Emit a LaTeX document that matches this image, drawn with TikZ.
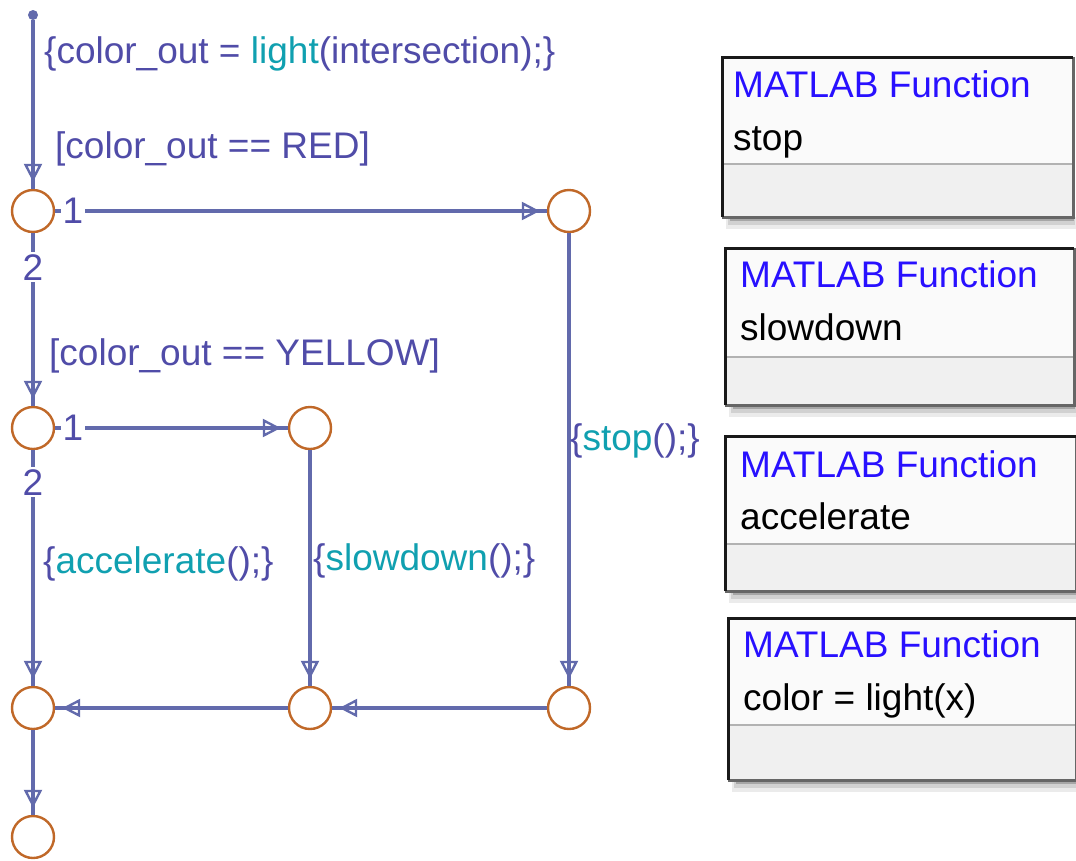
\documentclass[tikz,border=0pt]{standalone}
\usepackage{fontspec}
\setmainfont{Liberation Sans}
\usetikzlibrary{arrows.meta}
\definecolor{lineblue}{RGB}{98,106,172}
\definecolor{lblblue}{RGB}{80,76,168}
\definecolor{actteal}{RGB}{16,160,176}
\definecolor{junc}{RGB}{192,104,40}
\definecolor{fnblue}{RGB}{40,16,255}
\newcommand{\act}[1]{\textcolor{actteal}{#1}}
\begin{document}
\begin{tikzpicture}[x=1pt,y=-1pt,
  junction/.style={circle,draw=junc,line width=2.4pt,fill=white,minimum size=42pt,inner sep=0pt},
  trans/.style={draw=lineblue,line width=3.4pt,-{Triangle[open,length=18pt,width=18pt,line width=2.4pt]Rectangle[length=7pt,width=4pt]}},
  lbl/.style={font=\fontsize{37}{40}\selectfont,text=lblblue,anchor=base west,inner sep=0pt},
  num/.style={font=\fontsize{37}{40}\selectfont,text=lblblue,fill=white,inner sep=2pt,anchor=base},
  fntitle/.style={font=\fontsize{37}{40}\selectfont,text=fnblue,anchor=base west,inner sep=0pt},
  fnname/.style={font=\fontsize{37}{40}\selectfont,text=black,anchor=base west,inner sep=0pt},
  dotstyle/.style={circle,fill=lineblue,minimum size=10pt,inner sep=0pt}
]
\useasboundingbox (0,0) rectangle (1076,860);
\fill[white] (0,0) rectangle (1076,860);

% ---------- function boxes ----------
\newcommand{\fnbox}[5]{%
  \fill[black!8] (#1+4,#4) rectangle (#3+3,#4+12);
  \fill[black!18] (#1+6,#4) rectangle (#3+2,#4+8);
  \fill[black!35] (#1+8,#4) rectangle (#3+1,#4+4);
  \fill[black!2] (#1,#2) rectangle (#3,#5);
  \fill[black!6] (#1,#5) rectangle (#3,#4);
  \draw[black!30,line width=2pt] (#1,#5) -- (#3,#5);
  \draw[black!60,line width=3pt] (#1,#4) -- (#3,#4) -- (#3,#2);
  \draw[black!90,line width=3pt] (#1,#4) -- (#1,#2) -- (#3,#2);
}
\fnbox{722}{57}{1073}{217}{164}
\fnbox{725}{248}{1074}{405}{357}
\fnbox{725}{436}{1076}{591}{544}
\fnbox{728}{618}{1076}{780}{725}

\node[fntitle] (t1) at (733,97) {MATLAB Function};
\node[fnname] (n1) at (733,150) {stop};
\node[fntitle] (t2) at (740,287) {MATLAB Function};
\node[fnname] (n2) at (740,340) {slowdown};
\node[fntitle] (t3) at (740,477) {MATLAB Function};
\node[fnname] (n3) at (740,529) {accelerate};
\node[fntitle] (t4) at (743,657) {MATLAB Function};
\node[fnname] (n4) at (743,710) {color = light(x)};

% ---------- flow chart ----------
\node[dotstyle] (dot) at (33,15) {};
\node[junction] (c1) at (33,211) {};
\node[junction] (c2) at (569,211) {};
\node[junction] (c3) at (33,428) {};
\node[junction] (c4) at (310,428) {};
\node[junction] (c6) at (33,708) {};
\node[junction] (c7) at (310,708) {};
\node[junction] (c9) at (569,708) {};
\node[junction] (c10) at (33,837) {};

\draw[trans] (dot) -- (c1);
\draw[trans] (c1) -- (c2);
\draw[trans] (c1) -- (c3);
\draw[trans] (c3) -- (c4);
\draw[trans] (c3) -- (c6);
\draw[trans] (c4) -- (c7);
\draw[trans] (c2) -- (c9);
\draw[trans] (c9) -- (c7);
\draw[trans] (c7) -- (c6);
\draw[trans] (c6) -- (c10);

\node[num] (o1a) at (73,223) {1};
\node[num] (o2a) at (33,280) {2};
\node[num] (o1b) at (73,440) {1};
\node[num] (o2b) at (33,495) {2};

\node[lbl] (l0) at (44,63) {\{color\_out = \act{light}(intersection);\}};
\node[lbl] (l1) at (55,158) {[color\_out == RED]};
\node[lbl] (l2) at (49,365) {[color\_out == YELLOW]};
\node[lbl] (l3) at (43,573) {\{\act{accelerate}();\}};
\node[lbl] (l4) at (313,570) {\{\act{slowdown}();\}};
\node[lbl] (l5) at (570,450) {\{\act{stop}();\}};
\end{tikzpicture}
\end{document}
